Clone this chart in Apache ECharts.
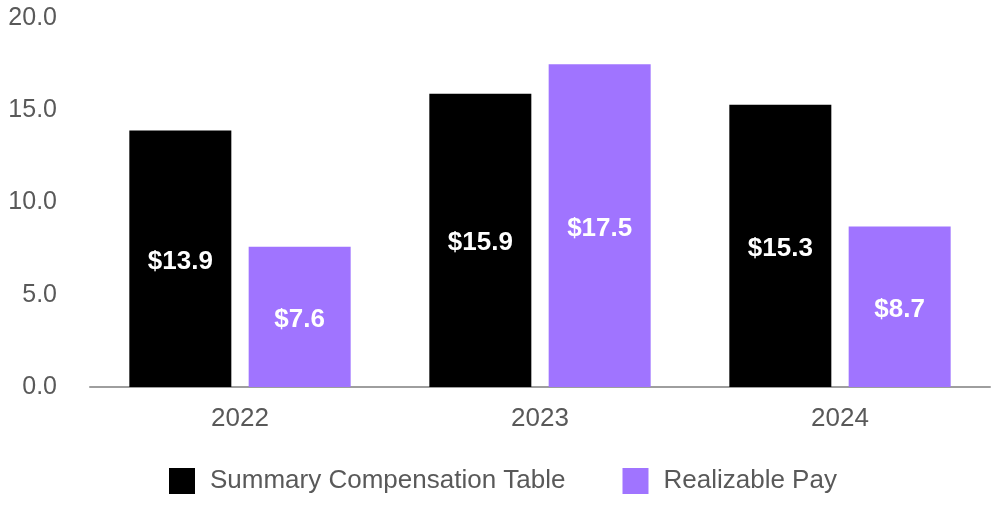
<!DOCTYPE html>
<html><head><meta charset="utf-8">
<script src="https://cdn.jsdelivr.net/npm/echarts@6/dist/echarts.min.js"></script>
<style>html,body{margin:0;padding:0;background:#fff}#c{width:1000px;height:510px}</style>
</head><body><div id="c"></div>
<script>
const categories = ['2022', '2023', '2024'];
const sctValues = [13.9, 15.9, 15.3];
const realizableValues = [7.6, 17.5, 8.7];
const yTicks = [0, 5, 20];

const FONT = "'Liberation Sans', Arial, sans-serif";
const chart = echarts.init(document.getElementById('c'));
const labelStyle = {
  show: true, position: 'inside', offset: [0, 3], color: '#fff', fontWeight: 'bold',
  fontSize: 26, fontFamily: FONT,
  formatter: p => '$' + p.value.toFixed(1)
};
chart.setOption({
  animation: false,
  grid: {left: 90, right: 10, top: 18, bottom: 123},
  legend: {
    bottom: 11, left: 164, itemWidth: 26, itemHeight: 26, itemGap: 57,
    icon: 'rect',
    textStyle: {fontSize: 26, color: '#595959', fontFamily: FONT, padding: [0, 0, 0, 10]},
    data: ['Summary Compensation Table', 'Realizable Pay']
  },
  xAxis: {
    type: 'category', data: categories,
    axisLine: {lineStyle: {color: '#9e9e9e', width: 2}},
    axisTick: {show: false},
    axisLabel: {fontSize: 26, color: '#595959', margin: 19, fontFamily: FONT}
  },
  yAxis: {
    type: 'value', min: yTicks[0], max: yTicks[2], interval: yTicks[1],
    splitLine: {show: false},
    axisLine: {show: false}, axisTick: {show: false},
    axisLabel: {fontSize: 25, color: '#595959', margin: 33, fontFamily: FONT,
      formatter: v => v.toFixed(1)}
  },
  series: [
    {name: 'Summary Compensation Table', type: 'bar', data: sctValues, barWidth: '34%', barGap: '17%',
      itemStyle: {color: '#000000'}, label: labelStyle},
    {name: 'Realizable Pay', type: 'bar', data: realizableValues, barWidth: '34%',
      itemStyle: {color: '#a074ff'}, label: labelStyle}
  ]
});
</script></body></html>
